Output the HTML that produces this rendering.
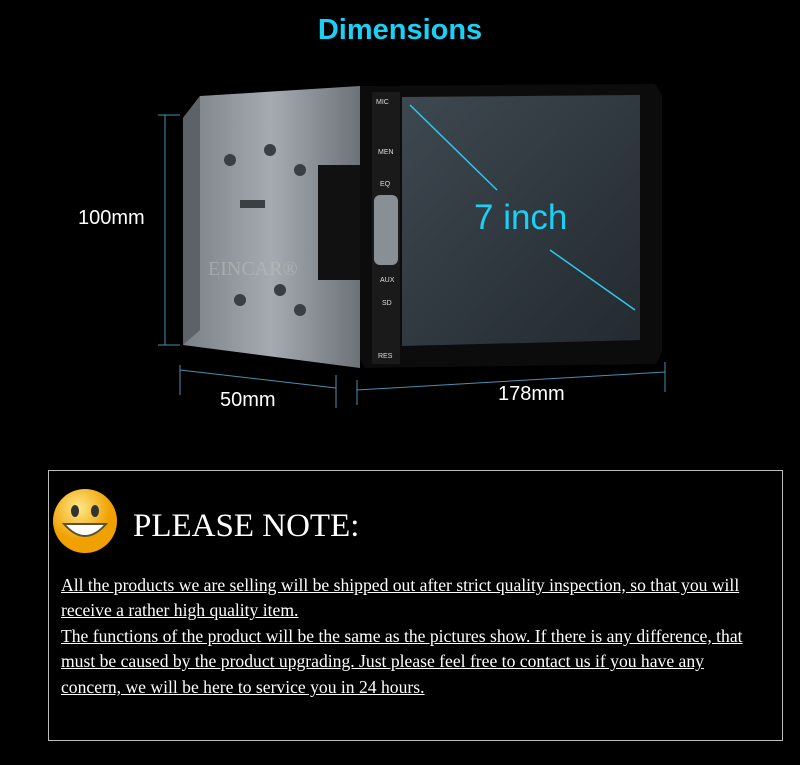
<!DOCTYPE html>
<html><head><meta charset="utf-8"><style>
body{margin:0;width:800px;height:765px;background:#000;overflow:hidden;position:relative;font-family:"Liberation Sans",sans-serif}
.a{position:absolute}
.t{color:#fff;font-size:20px}
.note{position:absolute;left:61px;color:#fff;font-family:"Liberation Serif",serif;font-size:17.6px;text-decoration:underline;white-space:nowrap}
</style></head><body>
<div class="a" style="left:0;width:800px;top:14px;text-align:center;color:#1ad0f5;font-weight:bold;font-size:29px">Dimensions</div>
<svg class="a" style="left:0;top:0" width="800" height="460">
<defs><linearGradient id="m" x1="0" x2="1"><stop offset="0" stop-color="#7a8086"/><stop offset="0.5" stop-color="#a5abb0"/><stop offset="1" stop-color="#6d7278"/></linearGradient>
<linearGradient id="s" x1="0" y1="0" x2="1" y2="1"><stop offset="0" stop-color="#3e4850"/><stop offset="1" stop-color="#232a30"/></linearGradient></defs>
<polygon points="183,118 200,96 360,86 360,368 183,345" fill="url(#m)"/>
<polygon points="183,118 200,96 200,330 183,345" fill="#5c6268"/>
<rect x="318" y="165" width="42" height="115" fill="#111"/>
<g fill="#3a3f44"><circle cx="230" cy="160" r="6"/><circle cx="270" cy="150" r="6"/><circle cx="300" cy="170" r="6"/><circle cx="240" cy="300" r="6"/><circle cx="280" cy="290" r="6"/><circle cx="300" cy="310" r="6"/><rect x="240" y="200" width="25" height="8"/></g>
<polygon points="360,86 655,84 662,95 662,352 656,364 365,368 360,360" fill="#0c0c0c"/>
<rect x="372" y="92" width="28" height="272" fill="#1a1a1a"/>
<rect x="374" y="195" width="24" height="70" rx="6" fill="#8a8f95"/>
<polygon points="402,97 640,95 640,340 402,346" fill="url(#s)"/>
<line x1="410" y1="105" x2="497" y2="190" stroke="#2ec8ee" stroke-width="1.5"/>
<line x1="550" y1="250" x2="635" y2="310" stroke="#2ec8ee" stroke-width="1.5"/>
<g fill="#ddd" font-size="7"><text x="376" y="104">MIC</text><text x="378" y="154">MEN</text><text x="380" y="186">EQ</text><text x="380" y="282">AUX</text><text x="382" y="305">SD</text><text x="378" y="358">RES</text></g>
<g stroke="#4a8fb0" stroke-width="1" fill="none">
<line x1="165" y1="115" x2="165" y2="345"/><line x1="158" y1="115" x2="180" y2="115"/><line x1="158" y1="345" x2="180" y2="345"/>
<line x1="180" y1="365" x2="180" y2="395"/><line x1="336" y1="375" x2="336" y2="408"/><line x1="180" y1="370" x2="336" y2="388"/>
<line x1="357" y1="380" x2="357" y2="405"/><line x1="665" y1="362" x2="665" y2="392"/><line x1="357" y1="390" x2="665" y2="372"/>
</g>
<text x="208" y="275" fill="#bbb" font-family="Liberation Serif" font-size="20" opacity="0.6">EINCAR®</text>
</svg>
<div class="a" style="left:474px;top:198px;color:#1ad0f5;font-size:35px">7 inch</div>
<div class="a t" style="left:78px;top:207px">100mm</div>
<div class="a t" style="left:220px;top:389px">50mm</div>
<div class="a t" style="left:498px;top:383px">178mm</div>
<div class="a" style="left:48px;top:470px;width:733px;height:269px;border:1px solid #bbb"></div>
<svg class="a" style="left:50px;top:486px" width="70" height="70">
<defs><radialGradient id="f" cx="0.4" cy="0.3"><stop offset="0" stop-color="#ffe98a"/><stop offset="1" stop-color="#f0a000"/></radialGradient></defs>
<circle cx="35" cy="35" r="32" fill="url(#f)"/>
<ellipse cx="25" cy="25" rx="4" ry="6" fill="#333"/><ellipse cx="45" cy="25" rx="4" ry="6" fill="#333"/>
<path d="M14 38 Q35 62 56 38 Z" fill="#fff" stroke="#553" stroke-width="2"/>
</svg>
<div class="a" style="left:133px;top:508px;color:#fff;font-family:'Liberation Serif',serif;font-size:33px">PLEASE NOTE:</div>
<div class="note" style="top:575px">All the products we are selling will be shipped out after strict quality inspection, so that you will</div>
<div class="note" style="top:600px">receive a rather high quality item.</div>
<div class="note" style="top:626px">The functions of the product will be the same as the pictures show. If there is any difference, that</div>
<div class="note" style="top:651px">must be caused by the product upgrading. Just please feel free to contact us if you have any</div>
<div class="note" style="top:677px">concern, we will be here to service you in 24 hours.</div>
</body></html>
